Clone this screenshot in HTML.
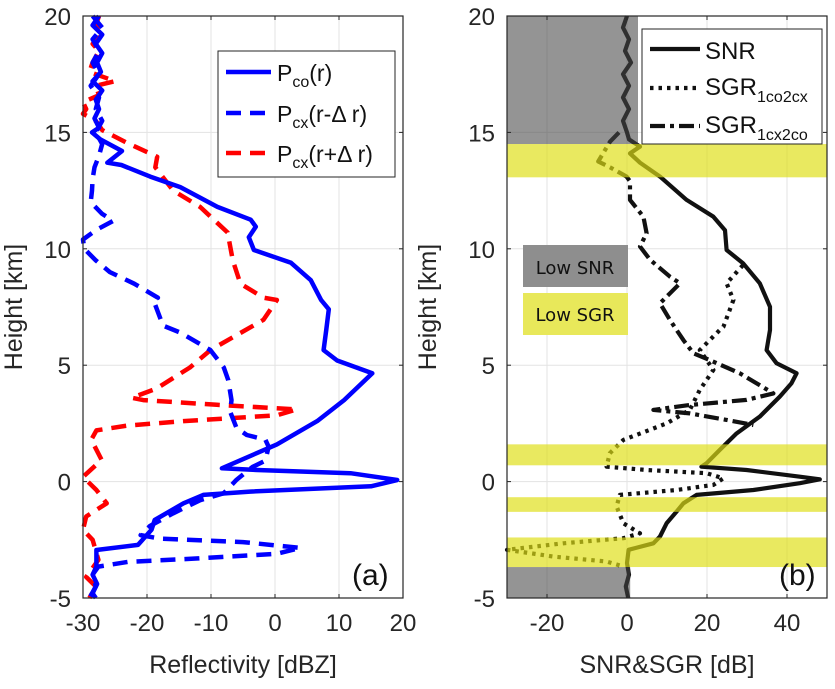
<!DOCTYPE html>
<html><head><meta charset="utf-8"><style>
body{margin:0;background:#fff;}
svg{display:block;font-family:"Liberation Sans",Arial,sans-serif;}
</style></head><body>
<svg id="fig" width="835" height="689" viewBox="0 0 835 689"></svg>
<script>
// ---- data (km, value) ----
const yTicks=[-5,0,5,10,15,20];
const xTicksA=[-30,-20,-10,0,10,20];
const xTicksB=[-20,0,20,40];
const pcoKm=[20,19.6,19.2,18.8,18.4,18,17.6,17.2,16.8,16.4,16,15.6,15.2,15,14.7,14.2,13.7,13.6,13.1,12.65,11.8,11.25,10.95,10.5,9.95,9.4,8.65,7.8,7.4,6.5,5.65,5.2,4.65,3.5,2.6,1.6,0.57,0.5,0.36,0.07,-0.2,-0.43,-0.57,-0.93,-1.65,-2.07,-2.72,-2.94,-3.65,-4,-4.4,-4.8,-5];
const pcoVal=[-27.5,-28.5,-27,-28,-27,-27.8,-27.2,-28.5,-27,-28,-27.5,-28.2,-27.5,-28.6,-27.3,-23.9,-26.2,-24,-19.5,-14.8,-9,-3.8,-3,-4.1,-3.3,2.5,5.6,7.2,8.4,8,7.6,9.7,15.2,10.8,6.6,0.3,-8.3,-2.8,11.8,19.1,15,-3.9,-11.2,-14.3,-18.8,-19.3,-21.4,-27.9,-27.9,-28.5,-27.8,-28.5,-28];
const pcxmKm=[20,19.5,19,18.5,18,17.5,17,16.5,16,15.5,15,14.5,14,13.5,13,12.5,12,11.5,11.2,10.8,10.4,10,9.5,9,8.5,7.9,7.8,6.7,6.4,5.65,4.9,4.35,3.5,3,2.3,2,1.8,1.5,0.9,0.63,0.08,-0.5,-0.8,-1.36,-1.9,-2.3,-2.45,-2.6,-2.85,-3.1,-3.3,-3.45,-3.65,-4,-4.5,-5];
const pcxmVal=[-28.5,-27,-28.5,-27.5,-28.5,-27.5,-28.8,-27.5,-28,-27,-28,-27,-27.5,-28.2,-28.5,-28.6,-28.8,-27,-25.3,-28,-30,-29.8,-28,-25.8,-22,-18.3,-19,-17.5,-14.8,-10.1,-8,-7.3,-6.8,-7,-6,-4.4,-1.5,-1,-1.5,-3.5,-6,-8,-11.7,-15.9,-19.5,-21,-18,-5,4,0.3,-12,-23,-27.6,-28.5,-28,-29];
const pcxpKm=[20,19.6,19.2,18.8,18.5,18,17.6,17.2,17,16.6,16.3,16,15.8,15.5,15.1,14.55,13.95,13.5,12.5,11.8,10.7,9.5,8.5,7.9,7.8,6.95,5.65,4.9,4,3.6,3.5,3.3,3.1,2.85,2.6,2.4,2.2,1.8,0.93,0.2,-0.36,-0.93,-1.5,-2.07,-2.5,-3.36,-4.1,-4.5,-5];
const pcxpVal=[-27.5,-28,-27,-28.5,-27.5,-28.5,-29,-25,-28,-27.5,-30,-29.5,-30,-28,-27,-23.1,-18.4,-18.7,-15.9,-11.7,-7.4,-6.6,-5.4,-1.8,0.3,-1.8,-10.1,-13.3,-18.5,-22.4,-20.6,-9.1,3.4,0.3,-14.3,-23.2,-27.9,-28.7,-27.1,-30,-27.9,-26.3,-29.5,-30,-28.5,-27.6,-29.5,-28,-29];
const snrKm=[20,19.5,19,18.5,18,17.5,17,16.5,16,15.5,15,14.7,14.39,14.1,13.7,13.1,12.1,11.38,10.8,9.95,9.38,8.52,7.51,6.51,5.65,5.08,4.65,4.22,3.65,2.79,2.07,1.36,0.79,0.64,0.5,0.21,0.1,-0.07,-0.36,-0.57,-0.93,-1.29,-1.79,-2.36,-2.65,-2.93,-3.5,-4,-4.5,-5];
const snrVal=[0,-1,0.5,-0.5,1,-1,0.5,-1,0.5,-1,0,0.5,3.25,0.75,3.25,8.25,14.9,21.6,24.5,24.9,29,33.2,35.75,35.75,34.9,37.4,42.4,41.1,38.2,33.2,27.4,23.2,19.9,18.6,29.9,43.2,48.2,43.2,31.6,17.4,14.1,12.4,9.9,8.25,6.6,0.4,0,0.5,-0.3,0.3];
const sgr1Km=[9.3,8.52,7.8,6.65,6.51,5.65,4.8,3.94,3.08,2.5,1.79,1.22,0.64,0.5,0.36,0.14,-0.14,-0.36,-0.57,-1.07,-1.79,-2.22,-2.43,-2.65,-2.93,-3.22,-3.43,-3.65];
const sgr1Val=[29,24.9,26.6,24.1,23.2,18.2,21.6,18.2,15.7,9.9,-0.9,-4.3,-5.1,4.9,19.9,24.1,21.6,12.4,-1.8,-2.6,-0.9,3.25,-0.9,-15.9,-30,-18.4,-5.1,-0.9];
const sgr2Km=[15,14.6,13.75,13.5,13.1,12.9,12.1,11.38,10.67,10.1,9.53,8.8,8.52,8.09,7.66,6.94,6.51,6.08,5.51,5.22,4.65,3.79,3.51,3.29,3.08,2.93,2.65,2.43];
const sgr2Val=[-2,-4.25,-7.2,-4.25,-0.1,0.75,0.75,4.1,4.9,3.25,5.75,10.75,13.25,10.75,8.25,10.75,12.4,14.1,16.6,20.7,28.2,36.6,29.9,15.7,6.6,15.7,24.9,31.6];
const grayLo=[14.5,-5], grayHi=[20,-3.67], grayX=[2.75,0.8];
const yelLo=[13.07,0.7,-1.3,-3.67], yelHi=[14.5,1.6,-0.67,-2.4];

const NS="http://www.w3.org/2000/svg";
const svg=document.getElementById('fig');
function mk(tag,attrs,parent){const e=document.createElementNS(NS,tag);for(const k in attrs)e.setAttribute(k,attrs[k]);(parent||svg).appendChild(e);return e;}
const T=16,B=598;
const yS=km=>B-(km+5)/25*(B-T);
const A={l:83,r:403,min:-30,max:20}, Bp={l:507,r:827,min:-30,max:50};
const xA=v=>A.l+(v-A.min)/(A.max-A.min)*(A.r-A.l);
const xB=v=>Bp.l+(v-Bp.min)/(Bp.max-Bp.min)*(Bp.r-Bp.l);
function pts(kms,vals,xf){return kms.map((k,i)=>xf(vals[i]).toFixed(1)+','+yS(k).toFixed(1)).join(' ');}

function axes(P,xf,xt,name){
  const g=mk('g',{});
  
  
  xt.forEach(v=>{mk('line',{x1:xf(v),x2:xf(v),y1:T,y2:B,stroke:'#e3e3e3','stroke-width':1},g);});
  yTicks.forEach(v=>{mk('line',{x1:P.l,x2:P.r,y1:yS(v),y2:yS(v),stroke:'#e3e3e3','stroke-width':1},g);});
}
function frame(P,xf,xt,name){
  const g=mk('g',{});
  
  
  mk('rect',{x:P.l,y:T,width:P.r-P.l,height:B-T,fill:'none',stroke:'#262626','stroke-width':1.2},g);
  xt.forEach(v=>{mk('line',{x1:xf(v),x2:xf(v),y1:B,y2:B-4,stroke:'#262626'},g);mk('line',{x1:xf(v),x2:xf(v),y1:T,y2:T+4,stroke:'#262626'},g);
    const t=mk('text',{x:xf(v),y:B+33,'text-anchor':'middle','font-size':24,fill:'#262626'},g);t.textContent=v;
    
    });
  yTicks.forEach(v=>{mk('line',{x1:P.l,x2:P.l+4,y1:yS(v),y2:yS(v),stroke:'#262626'},g);mk('line',{x1:P.r,x2:P.r-4,y1:yS(v),y2:yS(v),stroke:'#262626'},g);
    const t=mk('text',{x:P.l-12,y:yS(v)+9,'text-anchor':'end','font-size':24,fill:'#262626'},g);t.textContent=v;
    
    });
}
function line(kms,vals,xf,color,w,dash,name){
  const p=mk('polyline',{points:pts(kms,vals,xf),fill:'none',stroke:color,'stroke-width':w,'stroke-linejoin':'round','stroke-dasharray':dash||'none'});
  
  
}
// Panel A
axes(A,xA,xTicksA,'panel-a');
line(pcxpKm,pcxpVal,xA,'#ff0000',4.5,'15 9','series-pcx-plus');
line(pcxmKm,pcxmVal,xA,'#0000ff',4.5,'15 9','series-pcx-minus');
line(pcoKm,pcoVal,xA,'#0000ff',4.5,null,'series-pco');
frame(A,xA,xTicksA,'panel-a');
// Panel B
axes(Bp,xB,xTicksB,'panel-b');
line(sgr1Km,sgr1Val,xB,'#111',4.2,'3.5 5','series-sgr-1co2cx');
line(sgr2Km,sgr2Val,xB,'#111',4.2,'15 5 4 5','series-sgr-1cx2co');
line(snrKm,snrVal,xB,'#111',4.2,null,'series-snr');
grayLo.forEach((lo,i)=>{const r=mk('rect',{x:xB(-30),y:yS(grayHi[i]),width:xB(grayX[i])-xB(-30),height:yS(lo)-yS(grayHi[i]),fill:'rgba(70,70,70,0.58)'});
  
  });
yelLo.forEach((lo,i)=>{const r=mk('rect',{x:xB(-30),y:yS(yelHi[i]),width:xB(50)-xB(-30),height:yS(lo)-yS(yelHi[i]),fill:'rgba(222,222,20,0.68)'});
  
  });
frame(Bp,xB,xTicksB,'panel-b');
</script>
<svg style="position:absolute;left:0;top:0" width="835" height="689" font-family="Liberation Sans, Arial, sans-serif">
  <text x="22" y="307" transform="rotate(-90 22 307)" text-anchor="middle" font-size="25" fill="#262626">Height [km]</text>
  <text x="243" y="673" text-anchor="middle" font-size="25" fill="#262626">Reflectivity [dBZ]</text>
  <text x="436" y="307" transform="rotate(-90 436 307)" text-anchor="middle" font-size="25" fill="#262626">Height [km]</text>
  <text x="667" y="673" text-anchor="middle" font-size="25" fill="#262626">SNR&amp;SGR [dB]</text>
  <text x="352" y="585" font-size="30" fill="#111">(a)</text>
  <text x="779" y="585" font-size="30" fill="#111">(b)</text>
  <g>
    <rect x="218" y="51" width="177" height="126" fill="#fff" stroke="#262626" stroke-width="1"/>
    <line x1="226" y1="72" x2="271" y2="72" stroke="#0000ff" stroke-width="4.5"/>
    <text x="277" y="81" font-size="23" fill="#111">P<tspan font-size="16" dy="6">co</tspan><tspan dy="-6">(r)</tspan></text>
    <line x1="226" y1="113" x2="271" y2="113" stroke="#0000ff" stroke-width="4.5" stroke-dasharray="15 9"/>
    <text x="277" y="122" font-size="23" fill="#111">P<tspan font-size="16" dy="6">cx</tspan><tspan dy="-6">(r-Δ r)</tspan></text>
    <line x1="226" y1="153" x2="271" y2="153" stroke="#ff0000" stroke-width="4.5" stroke-dasharray="15 9"/>
    <text x="277" y="162" font-size="23" fill="#111">P<tspan font-size="16" dy="6">cx</tspan><tspan dy="-6">(r+Δ r)</tspan></text>
  </g>
  <g>
    <rect x="642" y="29" width="180" height="115" fill="#fff" stroke="#262626" stroke-width="1"/>
    <line x1="650" y1="49" x2="700" y2="49" stroke="#111" stroke-width="4.2"/>
    <text x="705" y="59" font-size="24" fill="#111">SNR</text>
    <line x1="650" y1="88" x2="700" y2="88" stroke="#111" stroke-width="4.2" stroke-dasharray="3.5 5"/>
    <text x="705" y="95" font-size="24" fill="#111">SGR<tspan font-size="16" dy="7">1co2cx</tspan></text>
    <line x1="650" y1="126" x2="700" y2="126" stroke="#111" stroke-width="4.2" stroke-dasharray="15 5 4 5"/>
    <text x="705" y="133" font-size="24" fill="#111">SGR<tspan font-size="16" dy="7">1cx2co</tspan></text>
  </g>
  <g>
    <rect x="523" y="245" width="105" height="42" fill="#8e8e8e"/>
    <text x="575" y="274" text-anchor="middle" font-size="18" fill="#111" font-family="DejaVu Sans, sans-serif">Low SNR</text>
  </g>
  <g>
    <rect x="523" y="293" width="105" height="42" fill="#e8e85a"/>
    <text x="575" y="321" text-anchor="middle" font-size="18" fill="#111" font-family="DejaVu Sans, sans-serif">Low SGR</text>
  </g>
</svg>
</body></html>
